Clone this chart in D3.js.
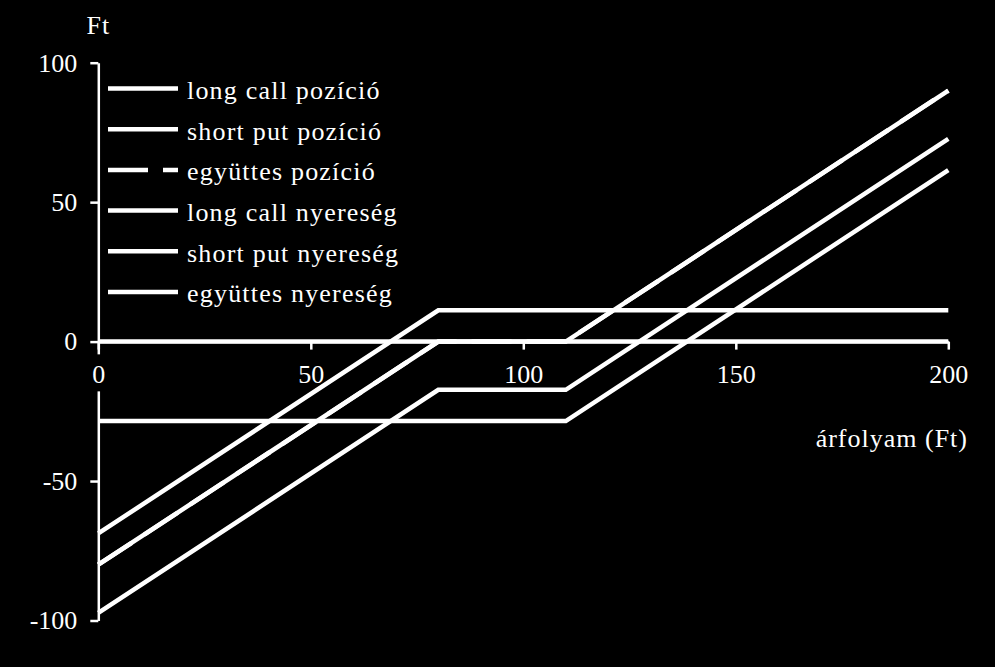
<!DOCTYPE html>
<html>
<head>
<meta charset="utf-8">
<script src="https://cdn.jsdelivr.net/npm/d3@7"></script>
<style>
  body { margin: 0; background: #000; }
  svg { display: block; }
  text { font-family: "Liberation Serif", "DejaVu Serif", serif; fill: #fff; }
</style>
</head>
<body>
<div id="chart"></div>
<script>
// price points where the payoff lines break
var prices = [0, 80, 110, 200];

var seriesNames = [
  "long call pozíció",
  "short put pozíció",
  "együttes pozíció",
  "long call nyereség",
  "short put nyereség",
  "együttes nyereség"
];

var longCallPos = [0, 0, 0, 90];
var shortPutPos = [-80, 0, 0, 0];
var combinedPos = [-80, 0, 0, 90];
var longCallProfit = [-28.5, -28.5, -28.5, 61.5];
var shortPutProfit = [-68.8, 11.2, 11.2, 11.2];
var combinedProfit = [-97.3, -17.3, -17.3, 72.7];

var xTicks = [0, 50, 100, 150, 200];
var yTicks = [-100, -50, 0, 50, 100];

var allSeries = [longCallPos, shortPutPos, combinedPos, longCallProfit, shortPutProfit, combinedProfit];
var dashed = [false, false, true, false, false, false];

var svgWidth = 995, svgHeight = 667;

var svg = d3.select("#chart").append("svg")
  .attr("width", svgWidth)
  .attr("height", svgHeight);

svg.append("rect").attr("width", svgWidth).attr("height", svgHeight).attr("fill", "#000");

var xScale = d3.scaleLinear().domain([0, 200]).range([98.3, 948.3]);
var yScale = d3.scaleLinear().domain([-100, 100]).range([620.5, 62.7]);

// axes
var xAxis = svg.append("g")
  .attr("transform", `translate(0, ${yScale(0)})`)
  .call(d3.axisBottom(xScale).tickValues(xTicks).tickFormat(d => String(d))
    .tickSize(8).tickSizeOuter(0).tickPadding(14));

var yAxis = svg.append("g")
  .attr("transform", `translate(${xScale(0)}, 0)`)
  .call(d3.axisLeft(yScale).tickValues(yTicks).tickFormat(d => String(d))
    .tickSize(8).tickSizeOuter(0).tickPadding(13));

[xAxis, yAxis].forEach(function(ax) {
  ax.selectAll("path, line").attr("stroke", "#fff").attr("stroke-width", 2.5);
  ax.selectAll("text")
    .attr("fill", "#fff")
    .attr("font-size", 26)
    .attr("font-family", "Liberation Serif, serif");
});
xAxis.selectAll("text").attr("dy", "0.76em");

// black boxes behind x labels cut the y axis like the original
xAxis.selectAll(".tick").each(function() {
  var t = d3.select(this).select("text");
  var bb = t.node().getBBox();
  d3.select(this).insert("rect", "text")
    .attr("x", bb.x - 4)
    .attr("y", bb.y - 6)
    .attr("width", bb.width + 8)
    .attr("height", bb.height + 8)
    .attr("fill", "#000");
});
// bring x axis above the y axis line
xAxis.raise();

// axis titles
svg.append("text")
  .attr("x", xScale(0))
  .attr("y", 34)
  .attr("text-anchor", "middle")
  .attr("font-size", 26)
  .attr("letter-spacing", 1)
  .text("Ft");

svg.append("text")
  .attr("x", 968)
  .attr("y", 447)
  .attr("text-anchor", "end")
  .attr("font-size", 26)
  .attr("letter-spacing", 1)
  .text("árfolyam (Ft)");

// series lines
var line = d3.line()
  .x((d, i) => xScale(prices[i]))
  .y(d => yScale(d));

svg.selectAll(".series")
  .data(allSeries)
  .enter()
  .append("path")
  .attr("class", "series")
  .attr("d", d => line(d))
  .attr("fill", "none")
  .attr("stroke", "#fff")
  .attr("stroke-width", 4.5)
  .attr("stroke-dasharray", (d, i) => dashed[i] ? "40,15" : null);

// legend
var legend = svg.append("g");
var legendRows = legend.selectAll("g")
  .data(seriesNames)
  .enter()
  .append("g")
  .attr("transform", (d, i) => `translate(0, ${88.5 + i * 40.7})`);

legendRows.append("line")
  .attr("x1", 108)
  .attr("x2", 178)
  .attr("stroke", "#fff")
  .attr("stroke-width", 4.5)
  .attr("stroke-dasharray", (d, i) => dashed[i] ? "40,15" : null);

legendRows.append("text")
  .attr("x", 187)
  .attr("dy", "0.4em")
  .attr("font-size", 26)
  .attr("letter-spacing", 1.2)
  .text(d => d);
</script>
</body>
</html>
